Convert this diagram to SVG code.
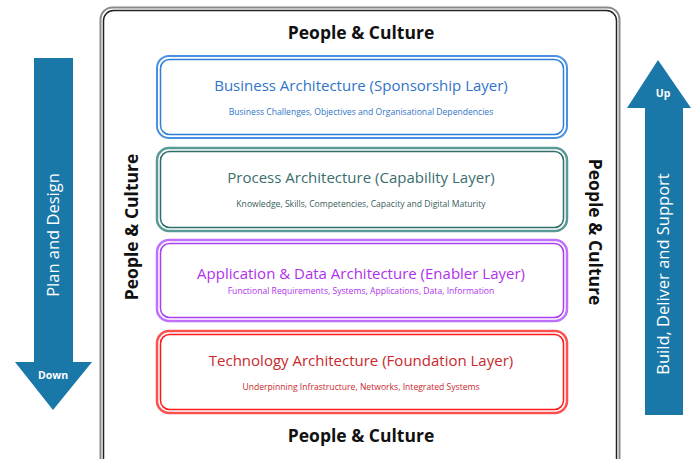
<svg xmlns="http://www.w3.org/2000/svg" width="691" height="459" viewBox="0 0 691 459">
<style>
.pc{font-family:"Open Sans","Noto Sans","Liberation Sans",sans-serif;font-weight:bold;font-size:17.5px;fill:#111;text-anchor:middle}
.t{font-family:"Open Sans","Noto Sans","Liberation Sans",sans-serif;font-size:15px;text-anchor:middle}
.s{font-family:"Open Sans","Noto Sans","Liberation Sans",sans-serif;font-size:8.6px;text-anchor:middle}
.aw{font-family:"Open Sans","Noto Sans","Liberation Sans",sans-serif;font-size:16.5px;fill:#fff;text-anchor:middle}
.ab{font-family:"Open Sans","Noto Sans","Liberation Sans",sans-serif;font-size:10.5px;font-weight:bold;fill:#fff;text-anchor:middle}
.arrow{fill:#1a78a8}
</style>
<rect width="691" height="459" fill="#fff"/>
<g id="frame">
<rect x="100.5" y="7.5" width="519" height="470" rx="12" fill="#fff" stroke="#8a8a8a" stroke-width="2"/>
<rect x="103.5" y="10.5" width="513" height="464" rx="10" fill="none" stroke="#222" stroke-width="1.5"/>
<text class="pc" x="361" y="39">People &amp; Culture</text>
<text class="pc" x="361" y="442">People &amp; Culture</text>
<text class="pc" transform="translate(138,227) rotate(-90)">People &amp; Culture</text>
<text class="pc" transform="translate(589,232) rotate(90)">People &amp; Culture</text>
</g>
<g id="left-arrow">
<polygon class="arrow" points="34,58 73,58 73,362 92,362 53,410 15,362 34,362"/>
<text class="aw" transform="translate(59,235) rotate(-90)">Plan and Design</text>
<text class="ab" x="53" y="379">Down</text>
</g>
<g id="right-arrow">
<polygon class="arrow" points="658,60 691,108 683,108 683,415 645,415 645,108 627,108"/>
<text class="ab" x="663" y="97">Up</text>
<text class="aw" transform="translate(669,274) rotate(-90)">Build, Deliver and Support</text>
</g>
<g id="business">
<rect x="157" y="56" width="410" height="82" rx="12" fill="#fff" stroke="#4a90e2" stroke-width="2"/>
<rect x="160.5" y="59.5" width="403" height="75" rx="9" fill="none" stroke="#2f7fd8" stroke-width="1.5"/>
<text class="t" x="361" y="91" fill="#2f74c8">Business Architecture (Sponsorship Layer)</text>
<text class="s" x="361" y="115" fill="#2f74c8">Business Challenges, Objectives and Organisational Dependencies</text>
</g>
<g id="process">
<rect x="157" y="148" width="410" height="83" rx="12" fill="#fff" stroke="#5a9a96" stroke-width="2.5"/>
<rect x="160.5" y="151.5" width="403" height="76" rx="9" fill="none" stroke="#2f6e6c" stroke-width="1.5"/>
<text class="t" x="361" y="183" fill="#3a6d6d">Process Architecture (Capability Layer)</text>
<text class="s" x="361" y="207" fill="#3a5d5d">Knowledge, Skills, Competencies, Capacity and Digital Maturity</text>
</g>
<g id="application">
<rect x="157" y="240" width="410" height="81" rx="12" fill="#fff" stroke="#c070ff" stroke-width="2.5"/>
<rect x="160.5" y="243.5" width="403" height="74" rx="9" fill="none" stroke="#a83ff0" stroke-width="1.5"/>
<text class="t" x="361" y="279" fill="#b030ec">Application &amp; Data Architecture (Enabler Layer)</text>
<text class="s" x="361" y="294" fill="#b030ec">Functional Requirements, Systems, Applications, Data, Information</text>
</g>
<g id="technology">
<rect x="157" y="331" width="410" height="82" rx="12" fill="#fff" stroke="#ff5050" stroke-width="2.5"/>
<rect x="160.5" y="334.5" width="403" height="75" rx="9" fill="none" stroke="#ff1a1a" stroke-width="1.5"/>
<text class="t" x="361" y="366" fill="#c8282c">Technology Architecture (Foundation Layer)</text>
<text class="s" x="361" y="390" fill="#c8282c">Underpinning Infrastructure, Networks, Integrated Systems</text>
</g>
<g id="connectors"/>
</svg>
